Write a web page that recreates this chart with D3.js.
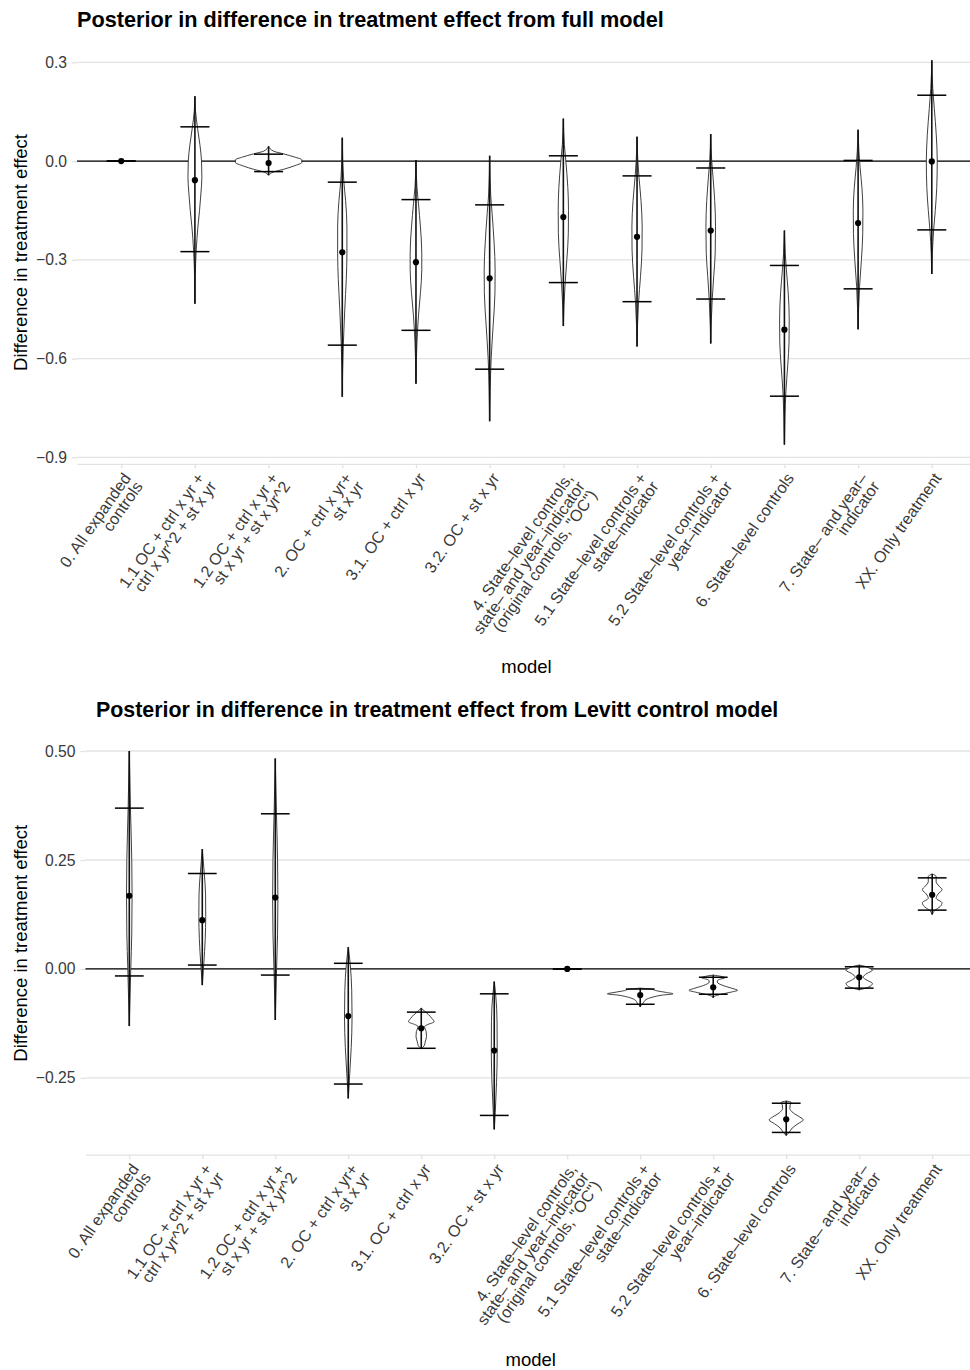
<!DOCTYPE html>
<html>
<head>
<meta charset="utf-8">
<script src="https://cdn.jsdelivr.net/npm/d3@7"></script>
<style>
  body { margin: 0; background: #fff; }
  text { font-family: "Liberation Sans", Arial, Helvetica, sans-serif; }
</style>
</head>
<body>
<svg id="chart" width="970" height="1370"></svg>
<script>
// Models on the x axis (same in both panels)
const models = [
  "0. All expanded\ncontrols",
  "1.1 OC + ctrl x yr +\nctrl x yr^2 + st x yr",
  "1.2 OC + ctrl x yr +\nst x yr + st x yr^2",
  "2. OC + ctrl x yr+\nst x yr",
  "3.1. OC + ctrl x yr",
  "3.2. OC + st x yr",
  "4. State\u2013level controls,\nstate\u2013 and year\u2013indicator\n(original controls, \"OC\")",
  "5.1 State\u2013level controls +\nstate\u2013indicator",
  "5.2 State\u2013level controls +\nyear\u2013indicator",
  "6. State\u2013level controls",
  "7. State\u2013 and year\u2013\nindicator",
  "XX. Only treatment"
];

// Panel 1: difference from full model
const fullMedian = [0, -0.058, -0.006, -0.277, -0.307, -0.356, -0.170, -0.230, -0.211, -0.512, -0.188, -0.001];
const fullLower  = [0, -0.275, -0.032, -0.559, -0.514, -0.632, -0.369, -0.427, -0.419, -0.714, -0.388, -0.209];
const fullUpper  = [0, 0.104, 0.021, -0.064, -0.117, -0.133, 0.016, -0.045, -0.021, -0.317, 0.002, 0.200];
const fullMin    = [0, -0.433, -0.043, -0.716, -0.676, -0.790, -0.501, -0.563, -0.554, -0.861, -0.511, -0.343];
const fullMax    = [0, 0.197, 0.045, 0.071, 0.003, 0.016, 0.129, 0.074, 0.082, -0.211, 0.095, 0.306];
// violin outlines: [value, relative density width]
const fullViolins = [
  [[0.003, 0], [0, 0.02], [-0.003, 0]],
  [[0.197, 0], [0.15, 0.02], [0.10, 0.08], [0.05, 0.15], [0.0, 0.2], [-0.05, 0.21], [-0.10, 0.18], [-0.15, 0.14], [-0.20, 0.09], [-0.27, 0.04], [-0.35, 0.01], [-0.433, 0]],
  [[0.045, 0], [0.030, 0.15], [0.022, 0.45], [0.012, 0.79], [0.004, 1], [-0.004, 1], [-0.015, 0.76], [-0.025, 0.45], [-0.033, 0.15], [-0.043, 0]],
  [[0.071, 0], [0.0, 0.015], [-0.06, 0.045], [-0.12, 0.1], [-0.2, 0.14], [-0.28, 0.14], [-0.36, 0.12], [-0.45, 0.075], [-0.56, 0.03], [-0.64, 0.01], [-0.716, 0]],
  [[0.003, 0], [-0.08, 0.03], [-0.13, 0.075], [-0.2, 0.135], [-0.28, 0.175], [-0.33, 0.175], [-0.4, 0.135], [-0.47, 0.075], [-0.55, 0.03], [-0.676, 0]],
  [[0.016, 0], [-0.1, 0.03], [-0.16, 0.075], [-0.25, 0.135], [-0.33, 0.165], [-0.4, 0.16], [-0.5, 0.105], [-0.6, 0.045], [-0.7, 0.015], [-0.79, 0]],
  [[0.129, 0], [0.05, 0.03], [0.0, 0.075], [-0.08, 0.135], [-0.15, 0.155], [-0.22, 0.15], [-0.3, 0.105], [-0.37, 0.055], [-0.44, 0.018], [-0.501, 0]],
  [[0.074, 0], [0.0, 0.025], [-0.05, 0.06], [-0.12, 0.12], [-0.2, 0.155], [-0.27, 0.15], [-0.35, 0.105], [-0.43, 0.045], [-0.5, 0.015], [-0.563, 0]],
  [[0.082, 0], [0.0, 0.03], [-0.05, 0.07], [-0.12, 0.12], [-0.2, 0.145], [-0.28, 0.135], [-0.35, 0.09], [-0.42, 0.045], [-0.5, 0.012], [-0.554, 0]],
  [[-0.211, 0], [-0.28, 0.025], [-0.33, 0.06], [-0.4, 0.115], [-0.48, 0.145], [-0.55, 0.14], [-0.62, 0.1], [-0.7, 0.045], [-0.78, 0.015], [-0.861, 0]],
  [[0.095, 0], [0.03, 0.025], [-0.02, 0.06], [-0.08, 0.115], [-0.15, 0.145], [-0.22, 0.14], [-0.3, 0.1], [-0.38, 0.045], [-0.45, 0.015], [-0.511, 0]],
  [[0.306, 0], [0.22, 0.03], [0.16, 0.075], [0.08, 0.135], [0.0, 0.165], [-0.08, 0.15], [-0.15, 0.105], [-0.21, 0.055], [-0.28, 0.018], [-0.343, 0]]
];
const fullTicks = [0.3, 0, -0.3, -0.6, -0.9];
const fullTickLabels = ["0.3", "0.0", "\u22120.3", "\u22120.6", "\u22120.9"];

// Panel 2: difference from Levitt control model
const levittMedian = [0.168, 0.112, 0.164, -0.108, -0.136, -0.187, 0, -0.060, -0.042, -0.345, -0.019, 0.170];
const levittLower  = [-0.016, 0.009, -0.014, -0.264, -0.182, -0.336, 0, -0.081, -0.058, -0.375, -0.044, 0.135];
const levittUpper  = [0.369, 0.219, 0.356, 0.013, -0.099, -0.057, 0, -0.046, -0.019, -0.308, 0.005, 0.209];
const levittMin    = [-0.131, -0.037, -0.117, -0.297, -0.183, -0.368, 0, -0.087, -0.066, -0.382, -0.048, 0.125];
const levittMax    = [0.500, 0.275, 0.483, 0.050, -0.090, -0.029, 0, -0.044, -0.014, -0.303, 0.009, 0.218];
const levittViolins = [
  [[0.50, 0], [0.37, 0.035], [0.25, 0.075], [0.17, 0.085], [0.08, 0.075], [0.0, 0.045], [-0.131, 0]],
  [[0.275, 0], [0.22, 0.06], [0.17, 0.1], [0.12, 0.105], [0.07, 0.09], [0.01, 0.045], [-0.037, 0]],
  [[0.483, 0], [0.36, 0.035], [0.25, 0.07], [0.16, 0.08], [0.08, 0.07], [0.0, 0.04], [-0.117, 0]],
  [[0.05, 0], [0.01, 0.06], [-0.05, 0.105], [-0.11, 0.115], [-0.18, 0.09], [-0.24, 0.045], [-0.297, 0]],
  [[-0.090, 0], [-0.096, 0.09], [-0.104, 0.21], [-0.114, 0.33], [-0.121, 0.39], [-0.128, 0.18], [-0.132, 0.1], [-0.138, 0.12], [-0.144, 0.15], [-0.155, 0.16], [-0.167, 0.12], [-0.176, 0.09], [-0.183, 0]],
  [[-0.029, 0], [-0.06, 0.045], [-0.12, 0.085], [-0.19, 0.09], [-0.26, 0.07], [-0.33, 0.03], [-0.368, 0]],
  [[0.002, 0], [0, 0.02], [-0.002, 0]],
  [[-0.044, 0], [-0.046, 0.3], [-0.050, 0.5], [-0.054, 0.8], [-0.057, 1], [-0.060, 0.67], [-0.065, 0.36], [-0.070, 0.18], [-0.078, 0.09], [-0.083, 0.03], [-0.087, 0]],
  [[-0.014, 0], [-0.017, 0.24], [-0.020, 0.36], [-0.025, 0.15], [-0.030, 0.12], [-0.038, 0.3], [-0.045, 0.6], [-0.049, 0.74], [-0.053, 0.55], [-0.058, 0.24], [-0.062, 0.06], [-0.066, 0]],
  [[-0.303, 0], [-0.306, 0.15], [-0.312, 0.12], [-0.320, 0.11], [-0.330, 0.21], [-0.340, 0.42], [-0.346, 0.52], [-0.355, 0.36], [-0.365, 0.18], [-0.375, 0.09], [-0.382, 0]],
  [[0.009, 0], [0.006, 0.18], [0.002, 0.3], [-0.003, 0.4], [-0.010, 0.24], [-0.019, 0.12], [-0.026, 0.24], [-0.033, 0.4], [-0.040, 0.33], [-0.045, 0.15], [-0.048, 0]],
  [[0.218, 0], [0.212, 0.12], [0.200, 0.12], [0.190, 0.21], [0.182, 0.3], [0.172, 0.18], [0.162, 0.12], [0.152, 0.3], [0.143, 0.24], [0.135, 0.09], [0.125, 0]]
];
const levittTicks = [0.5, 0.25, 0, -0.25];
const levittTickLabels = ["0.50", "0.25", "0.00", "\u22120.25"];

const svg = d3.select("#chart");
svg.append("rect").attr("width", 970).attr("height", 1370).attr("fill", "#fff");

const gridColor = "#e2e2e2";
const tickFont = 15.7;
const xLabelFont = 16.2;
const labelAngle = 55;

function drawPanel(p) {
  const g = svg.append("g");

  // title
  g.append("text")
    .attr("x", p.titleX).attr("y", p.titleY)
    .style("font-size", p.titleSize + "px").style("font-weight", "bold")
    .text(p.title);

  const x = d3.scalePoint()
    .domain(models)
    .range([p.left, p.right])
    .padding(0.6);
  const step = x.step();

  const lo = d3.min(p.mins), hi = d3.max(p.maxs);
  const pad = (hi - lo) * 0.05;
  const y = d3.scaleLinear()
    .domain([lo - pad, hi + pad])
    .range([p.bottom, p.top]);

  // gridlines
  g.append("g").selectAll("line")
    .data(p.ticks)
    .join("line")
    .attr("x1", p.left).attr("x2", p.right)
    .attr("y1", d => y(d)).attr("y2", d => y(d))
    .attr("stroke", gridColor).attr("stroke-width", 1.3);

  // y axis
  const yAxis = g.append("g")
    .attr("transform", `translate(${p.left},0)`)
    .call(d3.axisLeft(y)
      .tickValues(p.ticks)
      .tickFormat((d, i) => p.tickLabels[i])
      .tickSize(5)
      .tickPadding(5));
  yAxis.select(".domain").remove();
  yAxis.selectAll(".tick line").attr("stroke", gridColor).attr("stroke-width", 1.3);
  yAxis.selectAll(".tick text")
    .attr("fill", "#3a3a3a")
    .style("font-size", tickFont + "px")
    .style("font-family", "'Liberation Sans', Arial, sans-serif");

  // x axis (ticks + grey line), labels drawn separately
  const xAxis = g.append("g")
    .attr("transform", `translate(0,${p.bottom})`)
    .call(d3.axisBottom(x).tickSize(4.5).tickSizeOuter(0).tickFormat(() => ""));
  xAxis.select(".domain").attr("stroke", gridColor).attr("stroke-width", 1.3);
  xAxis.selectAll(".tick line").attr("stroke", gridColor).attr("stroke-width", 1.3);

  const lineH = xLabelFont * 0.9;
  const labels = g.append("g").selectAll("g")
    .data(models)
    .join("g")
    .attr("transform", d => `translate(${x(d)},${p.bottom + 7}) rotate(${-labelAngle})`);
  labels.append("text")
    .attr("text-anchor", "end")
    .attr("fill", "#3a3a3a")
    .style("font-size", xLabelFont + "px")
    .each(function (d) {
      const t = d3.select(this);
      d.split("\n").forEach((line, i) => {
        t.append("tspan")
          .attr("x", 0)
          .attr("y", xLabelFont * 0.78 + i * lineH)
          .text(line);
      });
    });

  // axis titles
  g.append("text")
    .attr("x", (p.left + p.right) / 2).attr("y", p.xTitleY)
    .attr("text-anchor", "middle")
    .style("font-size", "18.5px")
    .text("model");
  g.append("text")
    .attr("transform", `translate(27,${(p.top + p.bottom) / 2}) rotate(-90)`)
    .attr("text-anchor", "middle")
    .style("font-size", "18.5px")
    .text("Difference in treatment effect");

  // zero reference line
  g.append("line")
    .attr("x1", p.left).attr("x2", p.right)
    .attr("y1", y(0)).attr("y2", y(0))
    .attr("stroke", "#000").attr("stroke-width", 1.3);

  // violins
  const maxHalf = step * 0.45;
  models.forEach((m, i) => {
    const cx = x(m);
    const area = d3.area()
      .y(d => y(d[0]))
      .x0(d => cx - d[1] * maxHalf)
      .x1(d => cx + d[1] * maxHalf)
      .curve(d3.curveMonotoneY);
    g.append("path")
      .attr("d", area(p.violins[i]))
      .attr("fill", "#fff")
      .attr("stroke", "#2a2a2a")
      .attr("stroke-width", 0.9);
  });

  // range lines
  g.append("g").selectAll("line")
    .data(models)
    .join("line")
    .attr("x1", d => x(d)).attr("x2", d => x(d))
    .attr("y1", (d, i) => y(p.maxs[i]))
    .attr("y2", (d, i) => y(p.mins[i]))
    .attr("stroke", "#111").attr("stroke-width", 1.6);

  // interval bars
  const barHalf = step * 0.197;
  [p.lower, p.upper].forEach(vals => {
    g.append("g").selectAll("line")
      .data(models)
      .join("line")
      .attr("x1", d => x(d) - barHalf).attr("x2", d => x(d) + barHalf)
      .attr("y1", (d, i) => y(vals[i]))
      .attr("y2", (d, i) => y(vals[i]))
      .attr("stroke", "#000").attr("stroke-width", 1.5);
  });

  // medians
  g.append("g").selectAll("circle")
    .data(models)
    .join("circle")
    .attr("cx", d => x(d))
    .attr("cy", (d, i) => y(p.median[i]))
    .attr("r", 3.1)
    .attr("fill", "#000");
}

drawPanel({
  title: "Posterior in difference in treatment effect from full model",
  titleX: 77, titleY: 26.8, titleSize: 21.7,
  left: 77, right: 976, top: 41.1, bottom: 463.8,
  xTitleY: 673,
  median: fullMedian, lower: fullLower, upper: fullUpper,
  mins: fullMin, maxs: fullMax, violins: fullViolins,
  ticks: fullTicks, tickLabels: fullTickLabels
});

drawPanel({
  title: "Posterior in difference in treatment effect from Levitt control model",
  titleX: 96, titleY: 717.3, titleSize: 21.4,
  left: 85.5, right: 976, top: 731.8, bottom: 1154.7,
  xTitleY: 1366,
  median: levittMedian, lower: levittLower, upper: levittUpper,
  mins: levittMin, maxs: levittMax, violins: levittViolins,
  ticks: levittTicks, tickLabels: levittTickLabels
});
</script>
</body>
</html>
